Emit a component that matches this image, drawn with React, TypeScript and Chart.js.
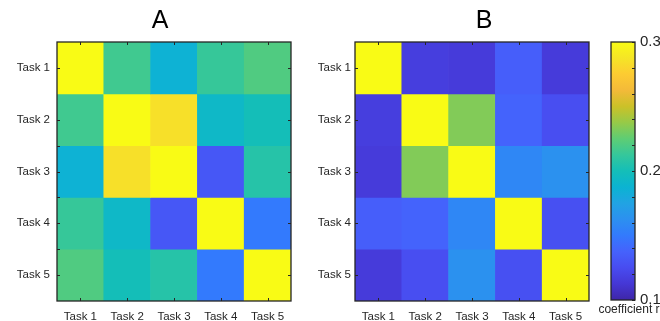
import React, { useEffect, useRef } from 'react';
import { Chart, registerables } from 'chart.js';

Chart.register(...registerables);

// ---------------- data ----------------
const tasks = ['Task 1', 'Task 2', 'Task 3', 'Task 4', 'Task 5'];
const rowPositions = [1, 2, 3, 4, 5];

const corrA = [
  [1.0, 0.216, 0.186, 0.213, 0.221],
  [0.216, 1.0, 0.285, 0.193, 0.2],
  [0.186, 0.285, 1.0, 0.131, 0.207],
  [0.213, 0.193, 0.131, 1.0, 0.15],
  [0.221, 0.2, 0.207, 0.15, 1.0],
];

const corrB = [
  [1.0, 0.117, 0.115, 0.135, 0.115],
  [0.117, 1.0, 0.233, 0.138, 0.126],
  [0.115, 0.233, 1.0, 0.157, 0.163],
  [0.135, 0.138, 0.157, 1.0, 0.127],
  [0.115, 0.126, 0.163, 0.127, 1.0],
];

const panelTitles = ['A', 'B'];
const minorTicksA = [2.5, 3.5, 4.5];
const colorMin = 0.1;
const colorMax = 0.3;
const cbTickValues = [0.1, 0.12, 0.14, 0.16, 0.18, 0.2, 0.22, 0.24, 0.26, 0.28, 0.3];
const cbLabelValues = [0.1, 0.2, 0.3];
const cbTitle = 'coefficient r';

// parula colormap (sampled)
const PARULA = [
  [0.2422, 0.1504, 0.6603],
  [0.2704, 0.2138, 0.8346],
  [0.2813, 0.2985, 0.9397],
  [0.271, 0.386, 0.9898],
  [0.2006, 0.4803, 0.9906],
  [0.1716, 0.5655, 0.9393],
  [0.1288, 0.6408, 0.891],
  [0.0433, 0.7039, 0.8242],
  [0.077, 0.7468, 0.7224],
  [0.2061, 0.7808, 0.6065],
  [0.3671, 0.8021, 0.4563],
  [0.5886, 0.7913, 0.2833],
  [0.7945, 0.7554, 0.157],
  [0.9523, 0.7284, 0.2237],
  [0.9938, 0.7974, 0.1974],
  [0.9601, 0.8963, 0.1507],
  [0.9769, 0.9839, 0.0805],
];

const TEXT = '#262626';
Chart.defaults.font.family = "'Liberation Sans', Arial, Helvetica, sans-serif";
Chart.defaults.color = TEXT;

function rgb(c: number[]) {
  return `rgb(${Math.round(c[0] * 255)},${Math.round(c[1] * 255)},${Math.round(c[2] * 255)})`;
}

function parulaAt(t: number) {
  const tt = Math.max(0, Math.min(1, t)) * (PARULA.length - 1);
  const i = Math.min(PARULA.length - 2, Math.floor(tt));
  const f = tt - i;
  const a = PARULA[i];
  const b = PARULA[i + 1];
  return rgb([a[0] + (b[0] - a[0]) * f, a[1] + (b[1] - a[1]) * f, a[2] + (b[2] - a[2]) * f]);
}

function valueColor(v: number) {
  return parulaAt((v - colorMin) / (colorMax - colorMin));
}

// an invisible axis used only to reserve space beside the plot
function spacerAxis(position: string, width: number) {
  return {
    type: 'linear',
    position,
    display: true,
    grid: { display: false, drawTicks: false },
    border: { display: false },
    ticks: { display: false },
    afterFit: (s: any) => {
      s.width = width;
    },
  };
}

// ---------------- plugins ----------------
const TICK_LEN = 3;

const heatFrame = {
  id: 'heatFrame',
  afterDatasetsDraw(chart: any, _args: any, opts: any) {
    const { ctx, chartArea, scales } = chart;
    const { left, right, top, bottom } = chartArea;
    const x = scales.x;
    const y = scales.y;
    ctx.save();
    ctx.strokeStyle = TEXT;
    ctx.lineWidth = 1;
    ctx.beginPath();
    tasks.forEach((_t: string, i: number) => {
      const px = Math.round(x.getPixelForValue(i)) + 0.5;
      ctx.moveTo(px, bottom);
      ctx.lineTo(px, bottom - TICK_LEN);
      ctx.moveTo(px, top);
      ctx.lineTo(px, top + TICK_LEN);
    });
    rowPositions.forEach((v) => {
      const py = Math.round(y.getPixelForValue(v)) + 0.5;
      ctx.moveTo(left, py);
      ctx.lineTo(left + TICK_LEN, py);
      ctx.moveTo(right, py);
      ctx.lineTo(right - TICK_LEN, py);
    });
    (opts.minorY || []).forEach((v: number) => {
      const py = Math.round(y.getPixelForValue(v)) + 0.5;
      ctx.moveTo(left, py);
      ctx.lineTo(left + TICK_LEN, py);
    });
    ctx.stroke();
    ctx.lineWidth = 1.3;
    ctx.strokeRect(left, top, right - left, bottom - top);
    ctx.restore();
  },
};

const cbFrame = {
  id: 'cbFrame',
  afterDatasetsDraw(chart: any) {
    const { ctx, chartArea, scales } = chart;
    const { left, right, top, bottom } = chartArea;
    const y = scales.y;
    ctx.save();
    ctx.strokeStyle = TEXT;
    ctx.lineWidth = 1;
    ctx.beginPath();
    cbTickValues.forEach((v) => {
      const py = Math.round(y.getPixelForValue(v)) + 0.5;
      ctx.moveTo(right, py);
      ctx.lineTo(right - TICK_LEN, py);
    });
    ctx.stroke();
    ctx.lineWidth = 1.3;
    ctx.strokeRect(left, top, right - left, bottom - top);
    ctx.restore();
  },
};

// ---------------- configs ----------------
function heatConfig(matrix: number[][], title: string, yWidth: number, yPad: number, rightSpace: number, minorY: number[]) {
  return {
    type: 'bar' as const,
    data: {
      labels: tasks,
      datasets: matrix.map((row, r) => ({
        label: tasks[r],
        data: row.map(() => [r + 0.5, r + 1.5]),
        backgroundColor: row.map(valueColor),
        borderWidth: 0,
        barPercentage: 1,
        categoryPercentage: 1,
        grouped: false,
        yAxisID: 'y',
      })),
    },
    options: {
      responsive: false,
      animation: false,
      layout: { padding: 0 },
      plugins: {
        legend: { display: false },
        tooltip: { enabled: false },
        title: {
          display: true,
          text: title,
          color: '#000',
          font: { size: 25, weight: 'normal' },
          padding: { top: 6, bottom: 6 },
        },
        heatFrame: { minorY },
      },
      scales: {
        x: {
          type: 'category',
          offset: true,
          grid: { display: false, drawTicks: false },
          border: { display: false },
          ticks: { color: TEXT, font: { size: 11.5 }, padding: 9, maxRotation: 0, minRotation: 0, autoSkip: false },
          afterFit: (s: any) => {
            s.height = 20;
          },
        },
        y: {
          type: 'linear',
          position: 'left',
          min: 0.5,
          max: 5.5,
          reverse: true,
          grid: { display: false, drawTicks: false },
          border: { display: false },
          ticks: {
            color: TEXT,
            font: { size: 11.5 },
            padding: yPad,
            callback: (v: any) => tasks[Math.round(Number(v)) - 1] ?? '',
          },
          afterBuildTicks: (s: any) => {
            s.ticks = rowPositions.map((v) => ({ value: v }));
          },
          afterFit: (s: any) => {
            s.width = yWidth;
          },
        },
        space: spacerAxis('right', rightSpace),
      },
    },
    plugins: [heatFrame],
  };
}

function colorbarConfig() {
  return {
    type: 'bar' as const,
    data: {
      labels: [cbTitle],
      datasets: [
        {
          data: [[colorMin, colorMax]],
          borderWidth: 0,
          barPercentage: 1,
          categoryPercentage: 1,
          yAxisID: 'y',
          backgroundColor: (c: any) => {
            const chart = c.chart;
            const y = chart.scales && chart.scales.y;
            if (!chart.chartArea || !y) return parulaAt(0.5);
            const g = chart.ctx.createLinearGradient(0, y.getPixelForValue(colorMin), 0, y.getPixelForValue(colorMax));
            PARULA.forEach((p, i) => g.addColorStop(i / (PARULA.length - 1), rgb(p)));
            return g;
          },
        },
      ],
    },
    options: {
      responsive: false,
      animation: false,
      layout: { padding: { left: 0, right: 0, top: 42, bottom: 0 } },
      plugins: {
        legend: { display: false },
        tooltip: { enabled: false },
        title: {
          display: true,
          position: 'bottom',
          text: cbTitle,
          color: TEXT,
          font: { size: 12, weight: 'normal' },
          padding: { top: 2.1, bottom: 4.5 },
        },
      },
      scales: {
        x: { type: 'category', display: false, offset: true },
        y: {
          type: 'linear',
          position: 'right',
          min: colorMin,
          max: colorMax,
          grid: { display: false, drawTicks: false },
          border: { display: false },
          ticks: {
            color: TEXT,
            font: { size: 15 },
            padding: 5,
            callback: (v: any) => {
              const n = Number(v);
              const hit = cbLabelValues.find((l) => Math.abs(l - n) < 1e-9);
              return hit !== undefined ? String(hit) : '';
            },
          },
          afterBuildTicks: (s: any) => {
            s.ticks = cbTickValues.map((v) => ({ value: v }));
          },
          afterFit: (s: any) => {
            s.width = 25;
          },
        },
        space: spacerAxis('left', 13),
      },
    },
    plugins: [cbFrame],
  };
}

// ---------------- components ----------------
function ChartCanvas({ makeConfig, left, width }: { makeConfig: () => any; left: number; width: number }) {
  const ref = useRef<HTMLCanvasElement>(null);
  useEffect(() => {
    if (!ref.current) return;
    const chart = new Chart(ref.current, makeConfig());
    return () => chart.destroy();
  }, []);
  return (
    <canvas
      ref={ref}
      width={width}
      height={321}
      style={{ position: 'absolute', left, top: 0, width, height: 321 }}
    />
  );
}

export default function App() {
  return (
    <div style={{ position: 'absolute', left: 0, top: 0, width: 660, height: 321, background: '#fff', overflow: 'hidden' }}>
      <ChartCanvas makeConfig={() => heatConfig(corrA, panelTitles[0], 57, 7, 29, minorTicksA)} left={0} width={320} />
      <ChartCanvas makeConfig={() => heatConfig(corrB, panelTitles[1], 47, 4, 71, [])} left={308} width={352} />
      <ChartCanvas makeConfig={colorbarConfig} left={598} width={62} />
    </div>
  );
}
